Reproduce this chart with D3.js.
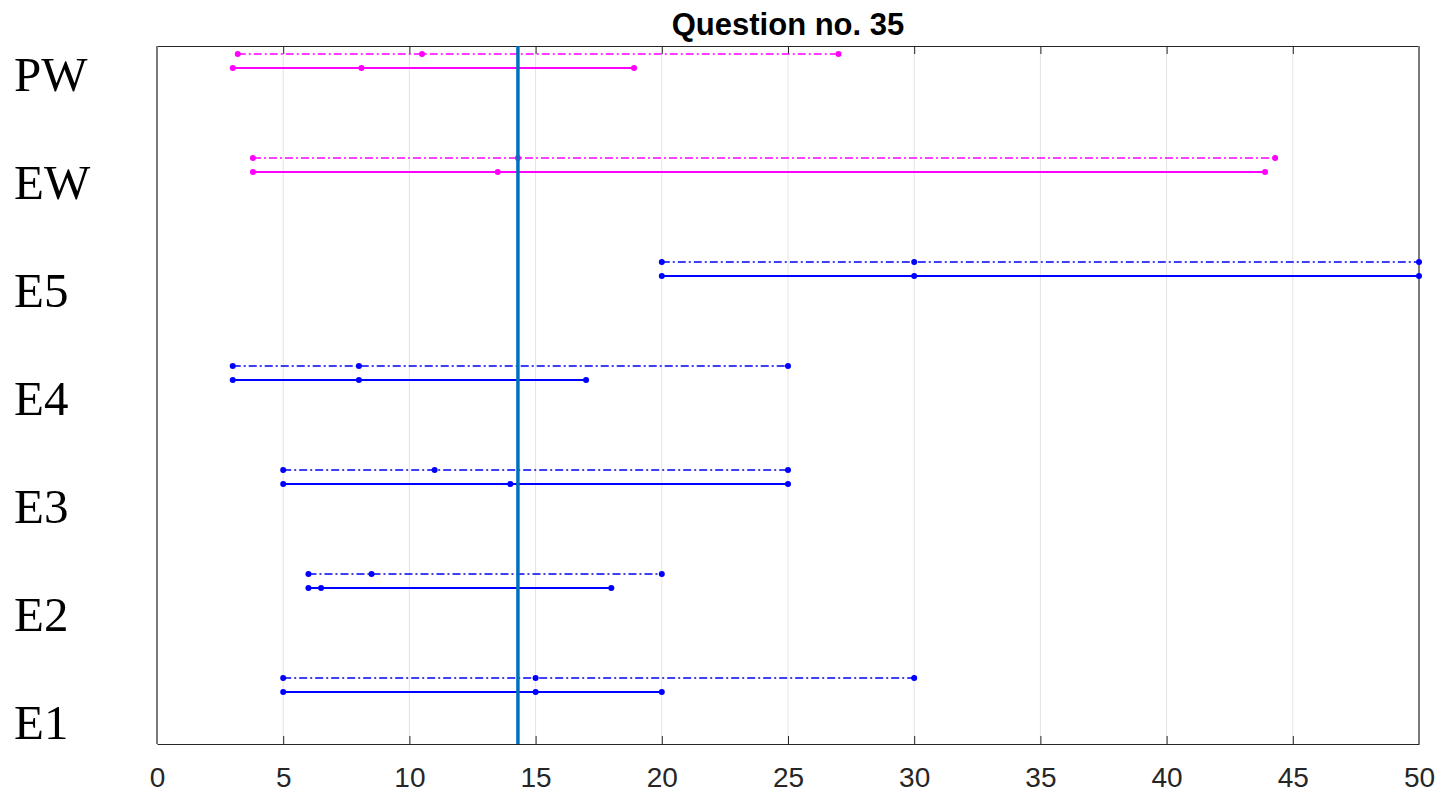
<!DOCTYPE html>
<html>
<head>
<meta charset="utf-8">
<script src="https://cdn.jsdelivr.net/npm/d3@7"></script>
<style>
  html, body { margin: 0; padding: 0; background: #fff; }
  svg { display: block; }
</style>
</head>
<body>
<svg id="chart" width="1438" height="794"></svg>
<script>
// Rows from top to bottom
const categories = ["PW", "EW", "E5", "E4", "E3", "E2", "E1"];
const rowColors = ["#ff00ff", "#ff00ff", "#0000ff", "#0000ff", "#0000ff", "#0000ff", "#0000ff"];

// Each interval: [low, mid, high]
const dashedIntervals = [
  [3.2, 10.5, 27.0],
  [3.8, 14.3, 44.3],
  [20, 30, 50],
  [3, 8, 25],
  [5, 11, 25],
  [6, 8.5, 20],
  [5, 15, 30]
];
const solidIntervals = [
  [3.0, 8.1, 18.9],
  [3.8, 13.5, 43.9],
  [20, 30, 50],
  [3, 8, 17],
  [5, 14, 25],
  [6, 6.5, 18],
  [5, 15, 20]
];

const referenceValue = 14.3;
const xTicks = [0, 5, 10, 15, 20, 25, 30, 35, 40, 45, 50];
const titleText = "Question no. 35";

const svg = d3.select("#chart");
const margin = { left: 157, right: 1419, top: 46, bottom: 744 };

const x = d3.scaleLinear().domain([0, 50]).range([margin.left, margin.right]);
// centre of each pair of interval lines
const yRow = d3.scalePoint().domain(categories).range([61, 685]);
// category labels
const yLabel = d3.scalePoint().domain(categories).range([74, 722]);
const pairOffset = 7;

// vertical grid
svg.append("g")
  .selectAll("line")
  .data(xTicks)
  .join("line")
  .attr("x1", d => x(d)).attr("x2", d => x(d))
  .attr("y1", margin.top).attr("y2", margin.bottom)
  .attr("stroke", "#e3e3e3")
  .attr("stroke-width", 1);

// bottom axis
const xAxis = d3.axisBottom(x).tickValues(xTicks).tickSizeInner(-8).tickSizeOuter(0).tickPadding(23);
const gx = svg.append("g").attr("transform", `translate(0,${margin.bottom})`).call(xAxis);
gx.select(".domain").attr("stroke", "#262626").attr("stroke-width", 1.2);
gx.selectAll(".tick line").attr("stroke", "#262626");
gx.selectAll(".tick text")
  .attr("font-family", "Arial, 'Liberation Sans', sans-serif")
  .attr("font-size", 28)
  .attr("fill", "#262626");

// top axis (box)
const xTop = d3.axisTop(x).tickValues(xTicks).tickSizeInner(-8).tickSizeOuter(0).tickFormat("");
const gt = svg.append("g").attr("transform", `translate(0,${margin.top})`).call(xTop);
gt.select(".domain").attr("stroke", "#262626").attr("stroke-width", 1.2);
gt.selectAll(".tick line").attr("stroke", "#262626");

// left and right box edges
svg.append("line")
  .attr("x1", margin.left).attr("x2", margin.left)
  .attr("y1", margin.top).attr("y2", margin.bottom)
  .attr("stroke", "#7a7a7a").attr("stroke-width", 2);
svg.append("line")
  .attr("x1", margin.right).attr("x2", margin.right)
  .attr("y1", margin.top).attr("y2", margin.bottom)
  .attr("stroke", "#7a7a7a").attr("stroke-width", 2);

// category labels
svg.append("g")
  .selectAll("text")
  .data(categories)
  .join("text")
  .attr("x", 14)
  .attr("y", d => yLabel(d))
  .attr("dy", "0.35em")
  .attr("font-family", "'Liberation Serif', 'Times New Roman', serif")
  .attr("font-size", 49)
  .attr("fill", "#000")
  .text(d => d);

// intervals
function drawIntervals(data, offset, dash, width, cls) {
  const g = svg.append("g").attr("class", cls);
  const rows = categories.map((c, i) => ({ cat: c, vals: data[i], color: rowColors[i] }));
  g.selectAll("line")
    .data(rows)
    .join("line")
    .attr("x1", d => x(d.vals[0]))
    .attr("x2", d => x(d.vals[2]))
    .attr("y1", d => yRow(d.cat) + offset)
    .attr("y2", d => yRow(d.cat) + offset)
    .attr("stroke", d => d.color)
    .attr("stroke-width", width)
    .attr("stroke-dasharray", dash);
  const pts = rows.flatMap(r => r.vals.map(v => ({ cat: r.cat, v, color: r.color })));
  g.selectAll("circle")
    .data(pts)
    .join("circle")
    .attr("cx", d => x(d.v))
    .attr("cy", d => yRow(d.cat) + offset)
    .attr("r", 3)
    .attr("fill", d => d.color);
}
drawIntervals(dashedIntervals, -pairOffset, "8,3,2,3", 1.6, "dashed");
drawIntervals(solidIntervals, pairOffset, null, 1.9, "solid");

// reference line
svg.append("line")
  .attr("x1", x(referenceValue)).attr("x2", x(referenceValue))
  .attr("y1", margin.top).attr("y2", margin.bottom)
  .attr("stroke", "#0072bd")
  .attr("stroke-width", 3.5);

// title
svg.append("text")
  .attr("x", (margin.left + margin.right) / 2)
  .attr("y", 35)
  .attr("text-anchor", "middle")
  .attr("font-family", "Arial, 'Liberation Sans', sans-serif")
  .attr("font-weight", "bold")
  .attr("font-size", 31)
  .attr("fill", "#000")
  .text(titleText);
</script>
</body>
</html>
